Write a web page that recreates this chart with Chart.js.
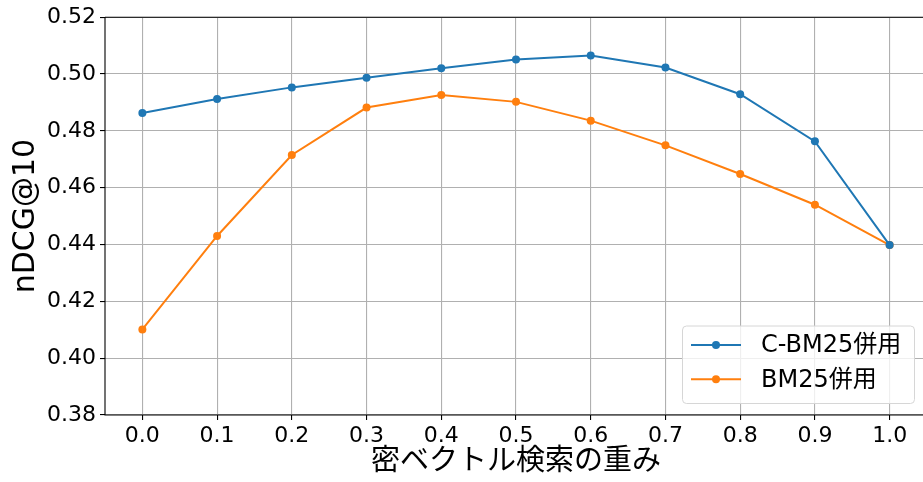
<!DOCTYPE html>
<html>
<head>
<meta charset="utf-8">
<script src="https://cdn.jsdelivr.net/npm/chart.js@4.4.1/dist/chart.umd.min.js"></script>
<style>
  html, body { margin: 0; padding: 0; background: #fff; overflow: hidden; width: 923px; height: 482px; }
  canvas { display: block; }
</style>
</head>
<body>
<canvas id="myChart" width="931" height="482"></canvas>
<script>
// nDCG@10 vs dense vector weight
const weights = [0.0, 0.1, 0.2, 0.3, 0.4, 0.5, 0.6, 0.7, 0.8, 0.9, 1.0];
const cbm25 = [0.4863, 0.4912, 0.4953, 0.4987, 0.5020, 0.5051, 0.5065, 0.5023, 0.4929, 0.4763, 0.4398];
const bm25 = [0.4101, 0.4430, 0.4715, 0.4882, 0.4926, 0.4902, 0.4836, 0.4749, 0.4648, 0.4540, 0.4398];
const seriesNames = ['C-BM25併用', 'BM25併用'];
const yTicks = [0.38, 0.40, 0.42, 0.44, 0.46, 0.48, 0.50, 0.52];
const xLabel = '密ベクトル検索の重み';
const yLabel = 'nDCG@10';

const FONT = "'DejaVu Sans', 'Noto Sans CJK JP', sans-serif";
const colors = ['#1f77b4', '#ff7f0e'];

// frame (top, left, bottom spines; right one falls off the canvas)
const frame = {
    id: 'frame',
    afterDraw(chart) {
        const ctx = chart.ctx;
        const a = chart.chartArea;
        ctx.save();
        ctx.strokeStyle = '#000';
        ctx.lineWidth = 1.1;
        ctx.beginPath();
        ctx.moveTo(a.left, a.top);
        ctx.lineTo(a.right, a.top);
        ctx.moveTo(a.left, a.top);
        ctx.lineTo(a.left, a.bottom);
        ctx.lineTo(a.right, a.bottom);
        ctx.lineTo(a.right, a.top);
        ctx.stroke();
        ctx.restore();
    }
};

// legend in the lower right, line + marker samples
const legendBox = {
    id: 'legendBox',
    afterDraw(chart) {
        const ctx = chart.ctx;
        const a = chart.chartArea;
        const bx = a.right - 245, by = a.bottom - 89.5, bw = 232, bh = 77.5;
        ctx.save();
        ctx.beginPath();
        ctx.roundRect(bx + 0.5, by + 0.5, bw, bh, 4);
        ctx.fillStyle = 'rgba(255,255,255,0.8)';
        ctx.fill();
        ctx.strokeStyle = '#d6d6d6';
        ctx.lineWidth = 1;
        ctx.stroke();
        const rows = [by + 19.5, by + 53.8];
        chart.data.datasets.forEach((ds, i) => {
            const y = rows[i];
            ctx.strokeStyle = ds.borderColor;
            ctx.lineWidth = 2;
            ctx.beginPath();
            ctx.moveTo(bx + 9, y);
            ctx.lineTo(bx + 59, y);
            ctx.stroke();
            ctx.fillStyle = ds.borderColor;
            ctx.beginPath();
            ctx.arc(bx + 34, y, 4, 0, Math.PI * 2);
            ctx.fill();
            ctx.fillStyle = '#000';
            ctx.font = '24px ' + FONT;
            ctx.textBaseline = 'middle';
            ctx.textAlign = 'left';
            ctx.fillText(ds.label, bx + 79, y + 1);
        });
        ctx.restore();
    }
};

const ctx = document.getElementById('myChart');
new Chart(ctx, {
    type: 'line',
    data: {
        datasets: [
            {
                label: seriesNames[0],
                data: weights.map((w, i) => ({ x: w, y: cbm25[i] })),
                borderColor: colors[0],
                backgroundColor: colors[0],
                borderWidth: 2,
                pointRadius: 4,
                pointBorderWidth: 0,
                tension: 0
            },
            {
                label: seriesNames[1],
                data: weights.map((w, i) => ({ x: w, y: bm25[i] })),
                borderColor: colors[1],
                backgroundColor: colors[1],
                borderWidth: 2,
                pointRadius: 4,
                pointBorderWidth: 0,
                tension: 0
            }
        ]
    },
    options: {
        responsive: false,
        animation: false,
        events: [],
        layout: { padding: { left: 0, top: 15, right: 4, bottom: 0 } },
        plugins: {
            legend: { display: false },
            tooltip: { enabled: false }
        },
        scales: {
            x: {
                type: 'linear',
                min: -0.05,
                max: 1.05,
                afterBuildTicks: s => { s.ticks = weights.map(v => ({ value: v })); },
                afterFit: s => { s.height = 67; },
                ticks: {
                    callback: v => v.toFixed(1),
                    color: '#000',
                    font: { family: FONT, size: 22 },
                    padding: 3,
                    maxRotation: 0,
                    autoSkip: false
                },
                grid: { color: '#b0b0b0', lineWidth: 1.1, tickColor: '#000', tickLength: 5, tickWidth: 1.1 },
                border: { display: false },
                title: {
                    display: true,
                    text: xLabel,
                    color: '#000',
                    font: { family: FONT, size: 29 },
                    padding: { top: 0, bottom: 2 }
                }
            },
            y: {
                type: 'linear',
                min: 0.38,
                max: 0.52,
                afterBuildTicks: s => { s.ticks = yTicks.map(v => ({ value: v })); },
                afterFit: s => { s.width = 105; },
                ticks: {
                    callback: v => v.toFixed(2),
                    color: '#000',
                    font: { family: FONT, size: 22 },
                    padding: 4
                },
                grid: { color: '#b0b0b0', lineWidth: 1.1, tickColor: '#000', tickLength: 5, tickWidth: 1.1 },
                border: { display: false },
                title: {
                    display: true,
                    text: yLabel,
                    color: '#000',
                    font: { family: FONT, size: 30 },
                    padding: { top: 8, bottom: 0 }
                }
            }
        }
    },
    plugins: [frame, legendBox]
});
</script>
</body>
</html>
